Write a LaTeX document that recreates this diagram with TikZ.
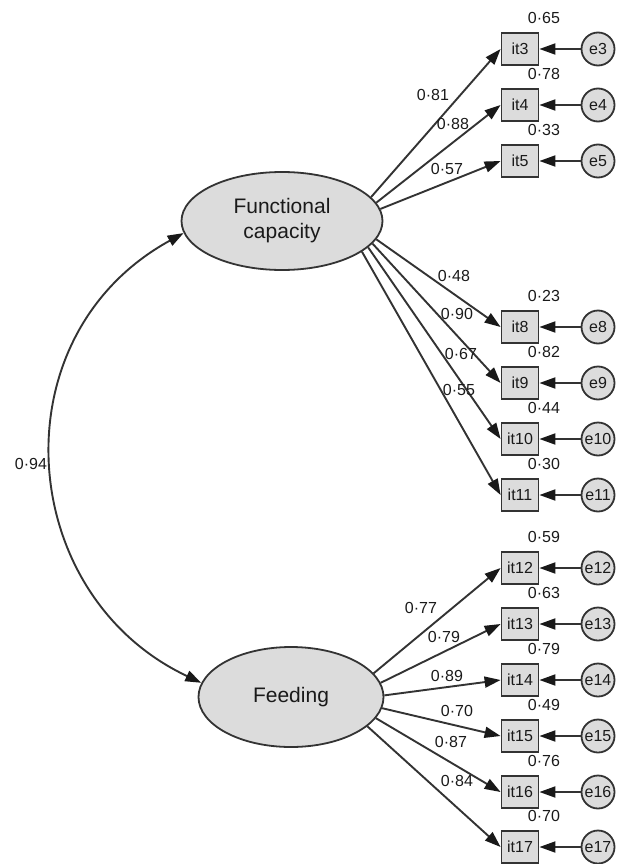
\documentclass[tikz,border=0pt]{standalone}
\usepackage{fontspec}
\setmainfont{Liberation Sans}
\usetikzlibrary{arrows.meta,shapes.geometric}
\definecolor{inkline}{HTML}{333333}
\definecolor{inktext}{HTML}{1A1A1A}
\definecolor{shade}{HTML}{DCDCDC}
\begin{document}
\begin{tikzpicture}[x=1pt,y=-1pt,
  latent/.style={ellipse,draw=inkline,fill=shade,line width=1.8pt,inner sep=0pt,
    align=center,text=inktext,font=\fontsize{21}{25}\selectfont},
  item/.style={rectangle,draw=inkline,fill=shade,line width=1.8pt,
    minimum width=37pt,minimum height=32pt,inner sep=0pt,text=inktext,
    font=\fontsize{16}{18}\selectfont},
  err/.style={circle,draw=inkline,fill=shade,line width=1.8pt,
    minimum size=33pt,inner sep=0pt,text=inktext,font=\fontsize{16}{18}\selectfont},
  num/.style={inner sep=0pt,text=inktext,font=\fontsize{16}{18}\selectfont},
  arrowline/.style={draw=inkline,line width=1.9pt,
    -{Triangle[length=16pt,width=11pt,color=black!90]}},
  covline/.style={draw=inkline,line width=1.9pt,
    {Triangle[length=16pt,width=11pt,color=black!90]}-{Triangle[length=16pt,width=11pt,color=black!90]}},
]
\useasboundingbox (0,0) rectangle (621,864);

% latent factors
\node[latent,minimum width=201pt,minimum height=98pt] (fc) at (282,221) {Functional\\capacity};
\node[latent,minimum width=185pt,minimum height=100pt] (fd) at (291,697) {Feeding};

% observed items, their error terms and squared multiple correlations
\foreach \k/\y/\v in {3/49/0·65, 4/105/0·78, 5/161/0·33, 8/327/0·23, 9/383/0·82,
    10/439/0·44, 11/495/0·30, 12/568/0·59, 13/624/0·63, 14/680/0·79,
    15/736/0·49, 16/792/0·76, 17/847/0·70} {
  \node[item] (it\k) at (520,\y) {it\k};
  \node[err] (e\k) at (598,\y) {e\k};
  \node[num] (v\k) at (544,\y-31) {\v};
  \draw[arrowline] (e\k) -- (it\k);
}

% loadings of Functional capacity
\foreach \k/\a/\lx/\ly/\l in {3/15/433/95/0·81, 4/11/453/124/0·88, 5/7/447/169/0·57,
    8/349/454/276/0·48, 9/346/457/314/0·90, 10/343/461/354/0·67, 11/339/459/390/0·55} {
  \draw[arrowline] (fc.\a) -- (it\k.west);
  \node[num] (l\k) at (\lx,\ly) {\l};
}

% loadings of Feeding
\foreach \k/\a/\lx/\ly/\l in {12/16/421/608/0·77, 13/9/444/637/0·79, 14/1/447/676/0·89,
    15/353/457/711/0·70, 16/346/451/742/0·87, 17/339/457/781/0·84} {
  \draw[arrowline] (fd.\a) -- (it\k.west);
  \node[num] (l\k) at (\lx,\ly) {\l};
}

% factor covariance
\draw[covline] (fc.187) .. controls (-4,336) and (15,595) .. (fd.171);
\node[num] (cov) at (31,464) {0·94};
\end{tikzpicture}
\end{document}
